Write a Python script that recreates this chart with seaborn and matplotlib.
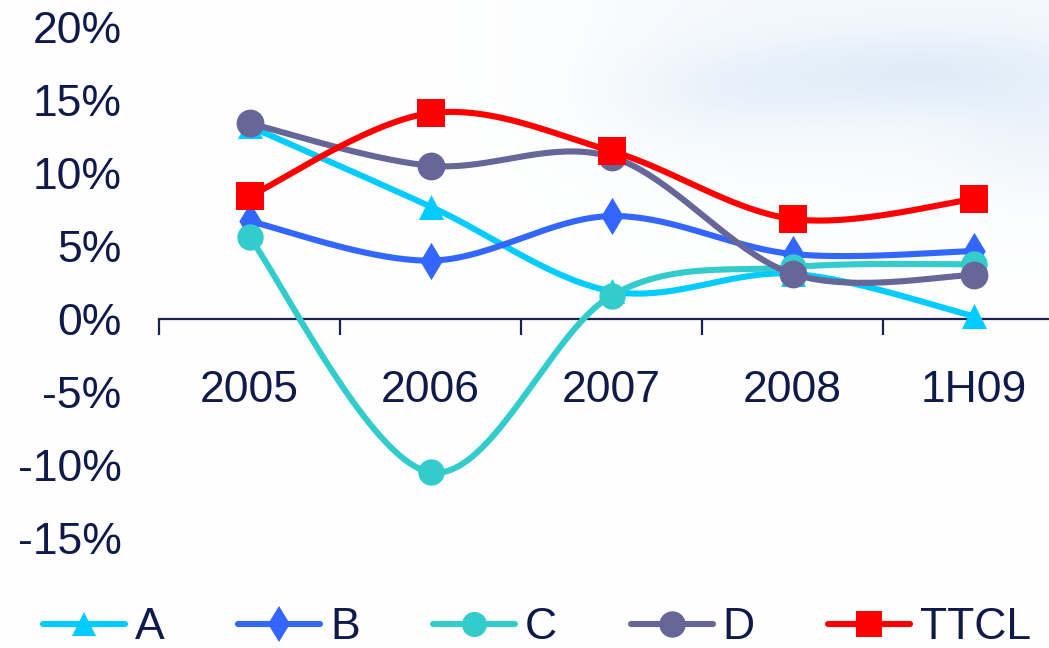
import numpy as np
import pandas as pd
import matplotlib
matplotlib.use("Agg")
import matplotlib.pyplot as plt
from matplotlib.lines import Line2D
import seaborn as sns

# ---- data -------------------------------------------------------------
periods = ["2005", "2006", "2007", "2008", "1H09"]
series_names = ["A", "B", "C", "D", "TTCL"]
a_vals = [13.2, 7.7, 1.9, 3.1, 0.2]
b_vals = [6.7, 4.0, 7.05, 4.45, 4.65]
c_vals = [5.6, -10.5, 1.6, 3.55, 3.75]
d_vals = [13.4, 10.5, 11.1, 3.1, 3.0]
ttcl_vals = [8.4, 14.1, 11.5, 6.85, 8.2]
y_ticks = [-15, -10, -5, 0, 5, 10, 15, 20]

# ---- styling ----------------------------------------------------------
colors = ["#00CCFF", "#3366FF", "#33CCCC", "#666699", "#FF0000"]
markers = ["^", "d", "o", "o", "s"]
msizes = [18, 19, 19, 20, 20]
text_color = "#0F1A4A"
axis_color = "#1A2050"

sns.set_theme(style="white")
plt.rcParams["font.family"] = ["Liberation Sans", "DejaVu Sans"]

fig = plt.figure(figsize=(10.49, 6.48), dpi=100)
fig.patch.set_facecolor("white")

# soft sky backdrop in the upper right
bg = fig.add_axes([0, 0, 1, 1], zorder=-5)
H, W = 648, 1049
yy, xx = np.mgrid[0:H, 0:W]
fx = 1 / (1 + np.exp(-(xx - 620) / 70.0))
fy = 1 / (1 + np.exp((yy - 170) / 45.0))
cloud = (np.exp(-(((xx - 920) / 160.0) ** 2 + ((yy - 75) / 40.0) ** 2))
         + 0.7 * np.exp(-(((xx - 700) / 130.0) ** 2 + ((yy - 95) / 45.0) ** 2))
         + 0.6 * np.exp(-(((xx - 1040) / 90.0) ** 2 + ((yy - 150) / 60.0) ** 2)))
alpha = np.clip(fx * fy * (0.22 + 0.40 * cloud), 0, 0.6)
tint = np.array([0.78, 0.87, 0.95])
img = np.ones((H, W, 3)) * (1 - alpha[..., None]) + tint * alpha[..., None]
bg.imshow(img, aspect="auto", extent=[0, W, H, 0])
bg.axis("off")

ax = fig.add_axes([159 / 1049, 1 - 538 / 648, 1 - 159 / 1049, (538 - 27) / 648])
ax.set_facecolor("none")


def smooth(xs, ys, n=40):
    """Cardinal (Catmull-Rom) Bezier smoothing between successive points."""
    p = np.column_stack([xs, ys]).astype(float)
    pts = np.vstack([p[0], p, p[-1]])
    out = []
    t = np.linspace(0, 1, n)[:, None]
    for i in range(1, len(pts) - 2):
        p0, p1, p2, p3 = pts[i - 1], pts[i], pts[i + 1], pts[i + 2]
        c1 = p1 + (p2 - p0) / 6.0
        c2 = p2 - (p3 - p1) / 6.0
        seg = ((1 - t) ** 3) * p1 + 3 * ((1 - t) ** 2) * t * c1 \
            + 3 * (1 - t) * t ** 2 * c2 + t ** 3 * p2
        out.append(seg if i == 1 else seg[1:])
    out = np.vstack(out)
    return out[:, 0], out[:, 1]


xs = np.arange(len(periods))
all_vals = [a_vals, b_vals, c_vals, d_vals, ttcl_vals]
for k, (name, vals) in enumerate(zip(series_names, all_vals)):
    sx, sy = smooth(xs, vals)
    curve = pd.DataFrame({"x": sx, "y": sy})
    sns.lineplot(data=curve, x="x", y="y", sort=False, estimator=None,
                 color=colors[k], linewidth=4.4, ax=ax, zorder=3 + 2 * k,
                 solid_capstyle="round", solid_joinstyle="round")
    pts = pd.DataFrame({"x": xs, "y": vals})
    sns.scatterplot(data=pts, x="x", y="y", marker=markers[k],
                    s=msizes[k] ** 2, color=colors[k], edgecolor=colors[k],
                    linewidth=0, ax=ax, zorder=4 + 2 * k)

ax.set_xlabel("")
ax.set_ylabel("")

# y axis: labels only
ax.set_yticks(y_ticks)
ax.set_yticklabels([f"{v}%" for v in y_ticks])
ax.tick_params(axis="y", length=0, pad=27, labelsize=32, labelcolor=text_color)

# x axis drawn at zero, tick marks between categories
for s in ["left", "right", "top"]:
    ax.spines[s].set_visible(False)
ax.spines["bottom"].set_position(("data", 0))
ax.spines["bottom"].set_color(axis_color)
ax.spines["bottom"].set_linewidth(1.6)
ax.set_xticks(xs)
ax.set_xticklabels(periods)
ax.set_xticks(np.arange(-0.5, len(periods) + 0.5, 1.0), minor=True)
ax.tick_params(axis="x", which="major", length=0, pad=37, labelsize=32,
               labelcolor=text_color)
ax.tick_params(axis="x", which="minor", length=11.5, width=1.6,
               color=axis_color, direction="out", bottom=True)
ax.grid(False)

ax.set_xlim(-0.5, -0.5 + (1049 - 159) / 181.0)
ax.set_ylim(-15, 20)

handles = [Line2D([0], [0], color=colors[k], lw=4.4, marker=markers[k],
                  markersize=msizes[k] * 0.95, markeredgewidth=0,
                  solid_capstyle="round")
           for k in range(len(series_names))]
fig.legend(handles, series_names, loc="center", bbox_to_anchor=(0.512, 0.031),
           ncol=5, frameon=False, fontsize=32, handlelength=1.85,
           handletextpad=0.22, columnspacing=1.65, borderpad=0,
           labelcolor=text_color)

fig.savefig("out.png", dpi=100, facecolor=fig.get_facecolor())
